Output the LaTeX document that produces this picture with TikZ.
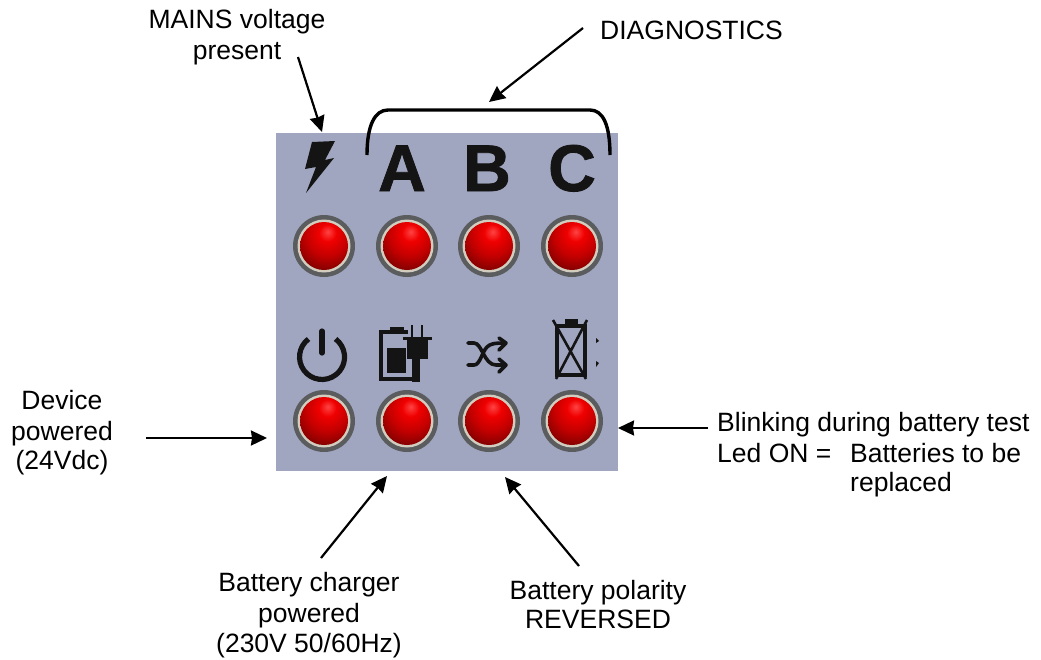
\documentclass[tikz,border=0pt]{standalone}
\usepackage{fontspec}
\setmainfont[BoldFeatures={FakeBold=1.2}]{Liberation Sans}
\usetikzlibrary{arrows.meta}
\definecolor{panelblue}{HTML}{A0A6C0}
\definecolor{ringgray}{HTML}{5A5C5E}
\definecolor{ringcream}{HTML}{D2CDBE}
\definecolor{iconblack}{HTML}{141414}
\definecolor{ledA}{HTML}{FF4444}
\definecolor{ledB}{HTML}{F00000}
\definecolor{ledC}{HTML}{C40000}
\definecolor{ledD}{HTML}{800000}
\definecolor{ledE}{HTML}{4A0000}
\pgfdeclareradialshading{ledball}{\pgfpoint{4bp}{15bp}}{%
  color(0bp)=(ledA);
  color(9bp)=(ledB);
  color(22bp)=(ledC);
  color(36bp)=(ledD);
  color(48bp)=(ledE);
  color(100bp)=(ledE)}
\tikzset{
  x=1pt,y=-1pt,
  label text/.style={font=\fontsize{26.5}{30}\selectfont,inner sep=0pt,text=black,anchor=base},
  label left/.style={font=\fontsize{26.5}{30}\selectfont,inner sep=0pt,text=black,anchor=base west},
  big letter/.style={font=\fontsize{66}{66}\selectfont\bfseries,inner sep=0pt,text=iconblack,anchor=base},
  callout/.style={draw=black,line width=2.2pt,-{Stealth[length=16pt,width=15pt,inset=1pt]}},
  brace line/.style={draw=black,line width=3.4pt,line cap=butt},
  icon fill/.style={fill=iconblack,draw=none},
  icon line/.style={draw=iconblack,line width=2.4pt},
  led outer/.style={circle,fill=ringgray,minimum size=62pt,inner sep=0pt},
  led middle/.style={circle,fill=ringcream,minimum size=53pt,inner sep=0pt},
  led core/.style={circle,shading=ledball,minimum size=48pt,inner sep=0pt},
}
\begin{document}
\begin{tikzpicture}
\useasboundingbox (0,0) rectangle (1041,659);
\node[fill=panelblue,minimum width=342pt,minimum height=338pt,inner sep=0pt] (panel) at (447,302) {};

% LEDs
\foreach \nm/\cx/\cy in {a/324/246,b/407/246,c/489/246,d/572/246,e/324/421,f/407/421,g/489/421,h/572/421}{
  \node[led outer] (ring\nm) at (\cx,\cy) {};
  \node[led middle] (cream\nm) at (\cx,\cy) {};
  \node[led core] (led\nm) at (\cx,\cy) {};
}

% top icons
\path[icon fill] (312,142) -- (335,141) -- (325,160) -- (334,158) -- (306,193) -- (316,167) -- (305,169) -- cycle;
\node[big letter] (letterA) at (402,191) {A};
\node[big letter] (letterB) at (487,191) {B};
\node[big letter] (letterC) at (572,191) {C};

% brace
\draw[brace line] (367,155) .. controls (367,125) and (375,110) .. (388,110) -- (590,110) .. controls (603,110) and (610,125) .. (610,155);

% power icon
\draw[draw=iconblack,line width=5.2pt] (308.5,339) arc[start angle=-127,delta angle=-286,radius=22.5];
\draw[draw=iconblack,line width=5.2pt,line cap=round] (322,331) -- (322,353);

% charger icon
\draw[icon line,line width=3.2pt] (408,332) -- (381,332) -- (381,379) -- (414,379);
\path[icon fill] (390,326.5) rectangle (404,329.5);
\path[icon fill] (387,348) rectangle (406,373);
\path[icon fill] (412,358) rectangle (420,382);
\path[icon fill] (407,340) rectangle (428,359);
\draw[icon line,line width=2.2pt] (403,338.5) -- (432,338.5);
\draw[icon line,line width=2.2pt] (412,325) -- (412,338);
\draw[icon line,line width=2.2pt] (422,325) -- (422,338);

% shuffle icon
\draw[icon line,line cap=round,line width=3.6pt] (468,343) -- (474,343) .. controls (482,343) and (484,365) .. (496,365) -- (504,365);
\draw[icon line,line cap=round,line width=3.6pt] (468,365) -- (474,365) .. controls (480,365) and (482,352) .. (487,347) .. controls (490,344) and (494,343) .. (504,343);
\draw[icon line,line cap=round,line join=round,line width=3.6pt] (499,338) -- (506,343) -- (499,350);
\draw[icon line,line cap=round,line join=round,line width=3.6pt] (499,359) -- (506,365) -- (499,372);

% crossed battery icon
\path[icon fill] (565,319) rectangle (578,326);
\draw[icon line,line width=3.2pt] (557,326) rectangle (585,375);
\draw[icon line,line width=2.6pt] (553,320) -- (586,379) (587,320) -- (556,379);
\path[icon fill] (596,338) -- (599,341) -- (596,343) -- cycle;
\path[icon fill] (596,361) -- (599,363) -- (596,367) -- cycle;

% labels
\node[label text] (mainsA) at (237,28) {MAINS voltage};
\node[label text] (mainsB) at (237,59) {present};
\node[label left] (diag) at (600,39) {DIAGNOSTICS};
\node[label text] (deviceA) at (62,409) {Device};
\node[label text] (deviceB) at (62,440) {powered};
\node[label text] (deviceC) at (62,469) {(24Vdc)};
\node[label left] (blink) at (717,431) {Blinking during battery test};
\node[label left] (ledon) at (717,462) {Led ON =};
\node[label left] (batt) at (850,462) {Batteries to be};
\node[label left] (repl) at (850,491) {replaced};
\node[label text] (chargerA) at (309,591) {Battery charger};
\node[label text] (chargerB) at (309,622) {powered};
\node[label text] (chargerC) at (309,652) {(230V 50/60Hz)};
\node[label text] (polarityA) at (598,599) {Battery polarity};
\node[label text] (polarityB) at (598,628) {REVERSED};

% connector ends
\coordinate (mainsS) at (298,57);   \coordinate (mainsE) at (322,132);
\coordinate (diagS) at (583,28);    \coordinate (diagE) at (489,102);
\coordinate (deviceS) at (146,438); \coordinate (deviceE) at (267,438);
\coordinate (blinkS) at (708,428);  \coordinate (blinkE) at (618,428);
\coordinate (chargerS) at (321,558);\coordinate (chargerE) at (387,476);
\coordinate (polS) at (579,566);    \coordinate (polE) at (505,477);
\draw[callout] (mainsS) -- (mainsE);
\draw[callout] (diagS) -- (diagE);
\draw[callout] (deviceS) -- (deviceE);
\draw[callout] (blinkS) -- (blinkE);
\draw[callout] (chargerS) -- (chargerE);
\draw[callout] (polS) -- (polE);
\end{tikzpicture}
\end{document}
